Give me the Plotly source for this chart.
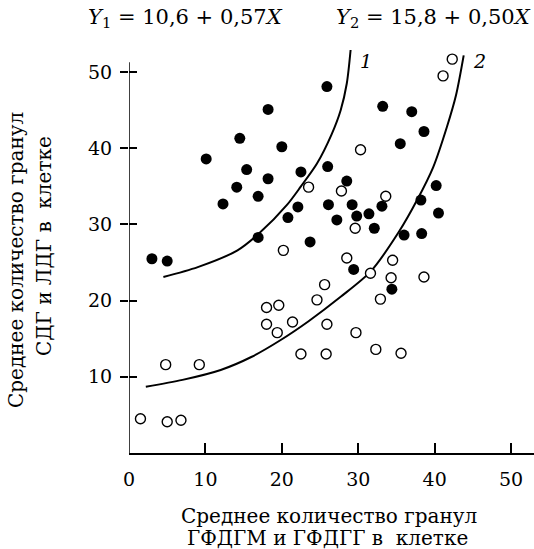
import plotly.graph_objects as go

# Filled circles (СДГ и ЛДГ)
filled_x = [25.9, 18.2, 14.5, 20.0, 10.1, 26.0, 15.4, 22.5, 18.2, 14.1, 16.9, 12.3, 26.1, 22.1,
            20.8, 27.2, 33.2, 37.0, 38.6, 35.5, 28.5, 40.2, 38.2, 40.5, 29.2, 33.1, 29.8, 31.4,
            32.1, 23.7, 36.0, 38.3, 29.4, 34.4, 3.0, 5.0, 16.9]
filled_y = [48.1, 45.1, 41.3, 40.2, 38.6, 37.6, 37.2, 36.9, 36.0, 34.9, 33.7, 32.7, 32.6, 32.3,
            30.9, 30.6, 45.5, 44.8, 42.2, 40.6, 35.7, 35.1, 33.2, 31.5, 32.6, 32.4, 31.1, 31.4,
            29.5, 27.7, 28.6, 28.8, 24.1, 21.5, 25.5, 25.2, 28.3]

# Open circles
open_x = [42.3, 41.1, 30.3, 23.5, 27.8, 33.6, 29.6, 28.5, 34.5, 31.6, 34.3, 38.6, 25.6, 24.6,
          32.9, 25.9, 29.7, 22.5, 25.8, 32.3, 35.6, 20.2, 18.0, 19.6, 18.0, 19.4, 21.4, 4.8,
          9.2, 1.5, 5.0, 6.8]
open_y = [51.7, 49.5, 39.8, 34.9, 34.4, 33.7, 29.5, 25.6, 25.3, 23.6, 23.0, 23.1, 22.1, 20.1,
          20.2, 16.9, 15.8, 13.0, 13.0, 13.6, 13.1, 26.6, 19.1, 19.4, 16.9, 15.8, 17.2, 11.6,
          11.6, 4.5, 4.1, 4.3]

# Regression curves
curve1_x = [4.5, 9.0, 14.2, 17.0, 20.7, 22.5, 24.6, 26.5, 27.7, 28.5, 29.0]
curve1_y = [23.1, 24.4, 26.6, 28.8, 32.6, 35.0, 38.0, 41.8, 45.0, 48.5, 52.9]
curve2_x = [2.2, 7.0, 12.0, 16.0, 19.8, 23.5, 27.7, 31.6, 35.3, 37.7, 39.8, 41.6, 42.8, 43.8]
curve2_y = [8.7, 9.6, 10.9, 12.6, 14.8, 17.3, 20.5, 23.8, 29.0, 33.2, 37.5, 42.8, 47.0, 52.2]

x_ticks = [0, 10, 20, 30, 40, 50]
y_ticks = [10, 20, 30, 40, 50]
y_axis_top = 51.3

FONT = "DejaVu Serif"

fig = go.Figure()
for cx, cy in ((curve1_x, curve1_y), (curve2_x, curve2_y)):
    fig.add_trace(go.Scatter(x=cx, y=cy, mode="lines",
                             line=dict(color="black", width=2, shape="spline", smoothing=0.8),
                             hoverinfo="skip", showlegend=False))
fig.add_trace(go.Scatter(x=filled_x, y=filled_y, mode="markers", cliponaxis=False,
                         marker=dict(size=11, color="black", line=dict(width=0)), showlegend=False))
fig.add_trace(go.Scatter(x=open_x, y=open_y, mode="markers", cliponaxis=False,
                         marker=dict(size=10, color="white", line=dict(width=1.4, color="black")),
                         showlegend=False))
fig.add_trace(go.Scatter(x=[0], y=[0], yaxis="y2", mode="markers", marker=dict(opacity=0),
                         hoverinfo="skip", showlegend=False))

fig.add_shape(type="line", xref="x", yref="y", x0=0, x1=0, y0=0, y1=y_axis_top,
              line=dict(color="black", width=1.5))

fig.update_layout(
    width=534, height=549,
    margin=dict(l=129, r=0, t=34, b=96),
    paper_bgcolor="white", plot_bgcolor="white",
    font=dict(family=FONT, color="black", size=20),
    xaxis=dict(range=[0, 53.0], tickvals=x_ticks, ticks="inside", ticklen=10, tickwidth=1.5,
               tickcolor="black", showline=True, linecolor="black", linewidth=1.5,
               showgrid=False, zeroline=False, ticklabelstandoff=8,
               tickfont=dict(family=FONT, size=19)),
    yaxis=dict(range=[0, 55], tickvals=y_ticks, ticks="outside", ticklen=8, tickwidth=1.5,
               tickcolor="black", showline=False, showgrid=False, zeroline=False,
               ticklabelstandoff=4, tickfont=dict(family=FONT, size=19)),
    yaxis2=dict(range=[0, 55], tickvals=y_ticks, ticks="inside", ticklen=8, tickwidth=1.5,
                tickcolor="black", showline=False, showgrid=False, zeroline=False,
                showticklabels=False, overlaying="y", side="left", anchor="x"),
)

pl, pw = 129, 534 - 129
ph = 549 - 34 - 96
def to_paper(px, py):
    return (px - pl) / pw, (549 - 96 - py) / ph

items = [
    ("<i>Y</i><sub>1</sub> = 10,6 + 0,57<i>X</i>", 185, 18, 0, 21),
    ("<i>Y</i><sub>2</sub> = 15,8 + 0,50<i>X</i>", 433, 18, 0, 21),
    ("<i>1</i>", 366, 61, 0, 19),
    ("<i>2</i>", 479, 61, 0, 19),
    ("Среднее количество гранул", 329, 516, 0, 20),
    ("ГФДГМ и ГФДГГ в  клетке", 327, 538, 0, 20),
    ("Среднее количество гранул", 16, 260, -90, 20),
    ("СДГ и ЛДГ в  клетке", 44, 246, -90, 20),
]
for text, px, py, ang, sz in items:
    xp, yp = to_paper(px, py)
    fig.add_annotation(text=text, x=xp, y=yp, xref="paper", yref="paper", showarrow=False,
                       xanchor="center", yanchor="middle", textangle=ang,
                       font=dict(family=FONT, size=sz, color="black"))

fig.write_html("out.html")
